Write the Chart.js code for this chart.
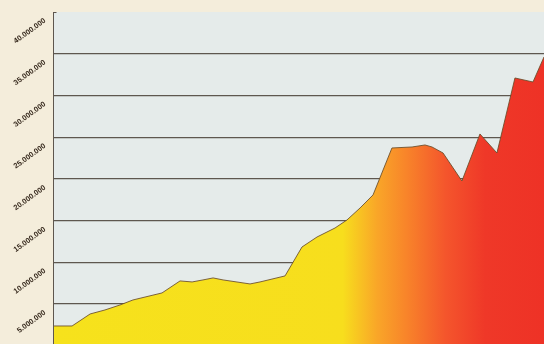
<!DOCTYPE html>
<html>
<head>
<meta charset="utf-8">
<script src="https://cdn.jsdelivr.net/npm/chart.js@4.4.1/dist/chart.umd.min.js"></script>
<style>
html,body{margin:0;padding:0;background:#f4eddb;}
#wrap{width:544px;height:344px;}
</style>
</head>
<body>
<div id="wrap"><canvas id="c" width="544" height="344"></canvas></div>
<script>
// Time (fractional years) and values
const periods = [1960.0, 1961.03, 1962.06, 1962.91, 1963.77, 1964.51, 1966.17, 1967.2, 1967.89, 1968.51,
  1969.09, 1969.66, 1971.2, 1971.77, 1973.2, 1974.17, 1975.03, 1976.06, 1976.74, 1977.49,
  1978.23, 1979.31, 1980.46, 1981.2, 1981.6, 1982.23, 1983.31, 1984.34, 1985.31, 1986.34,
  1987.37, 1988.0];
const values = [2360000, 2360000, 3800000, 4280000, 4880000, 5480000, 6320000, 7760000, 7640000, 7880000,
  8120000, 7880000, 7400000, 7640000, 8360000, 11830000, 13030000, 14110000, 15070000, 16510000,
  18070000, 23700000, 23820000, 24060000, 23820000, 23100000, 19740000, 25380000, 23100000, 32090000,
  31610000, 34610000];
const tickValues = [5000000, 10000000, 15000000, 20000000, 25000000, 30000000, 35000000, 40000000];
const tickLabels = ['5.000.000', '10.000.000', '15.000.000', '20.000.000', '25.000.000', '30.000.000', '35.000.000', '40.000.000'];

const bgPlugin = {
  id: 'bg',
  beforeDraw(chart) {
    const {ctx, chartArea: a} = chart;
    ctx.save();
    ctx.fillStyle = '#f4eddb';
    ctx.fillRect(0, 0, chart.width, chart.height);
    ctx.fillStyle = '#e5ebea';
    ctx.fillRect(a.left, a.top, a.right - a.left, a.bottom - a.top);
    ctx.restore();
  },
  afterDraw(chart) {
    const {ctx, chartArea: a} = chart;
    const y = chart.scales.y;
    ctx.save();
    ctx.fillStyle = '#33261a';
    ctx.font = 'bold 7.5px "Liberation Sans", Arial, sans-serif';
    ctx.textAlign = 'right';
    ctx.textBaseline = 'middle';
    tickValues.forEach((v, i) => {
      const py = y.getPixelForValue(v);
      ctx.save();
      ctx.translate(a.left - 8, py + 8);
      ctx.rotate(-36 * Math.PI / 180);
      ctx.fillText(tickLabels[i], 0, 0);
      ctx.restore();
    });
    // small hook at top of axis
    ctx.strokeStyle = '#5e564e';
    ctx.lineWidth = 1;
    ctx.beginPath();
    ctx.moveTo(a.left + 0.5, a.top + 0.5);
    ctx.lineTo(a.left + 3.5, a.top + 0.5);
    ctx.stroke();
    ctx.restore();
  }
};

function grad(context) {
  const chart = context.chart;
  const a = chart.chartArea;
  if (!a) return '#f5e01c';
  const g = chart.ctx.createLinearGradient(a.left, 0, a.right, 0);
  g.addColorStop(0, '#f6e21c');
  g.addColorStop(0.59, '#f7de1d');
  g.addColorStop(0.66, '#f9a628');
  g.addColorStop(0.72, '#f8842a');
  g.addColorStop(0.80, '#f4552c');
  g.addColorStop(0.88, '#ef3828');
  g.addColorStop(1, '#ee3226');
  return g;
}

new Chart(document.getElementById('c'), {
  type: 'line',
  data: {
    datasets: [{
      data: periods.map((p, i) => ({x: p, y: values[i]})),
      fill: 'start',
      backgroundColor: grad,
      borderColor: 'rgba(105,75,40,0.85)',
      borderWidth: 1,
      pointRadius: 0,
      tension: 0
    }]
  },
  options: {
    responsive: false,
    animation: false,
    devicePixelRatio: 1,
    layout: {padding: {left: 53, top: 12, right: 0, bottom: 0}},
    plugins: {legend: {display: false}, tooltip: {enabled: false}},
    scales: {
      x: {
        type: 'linear', min: 1959.94, max: 1988,
        display: false
      },
      y: {
        type: 'linear', min: 200000, max: 40000000,
        afterBuildTicks(scale) { scale.ticks = tickValues.map(v => ({value: v})); },
        ticks: {display: false},
        grid: {
          color: ctx => (ctx.tick && ctx.tick.value === 40000000) ? 'rgba(0,0,0,0)' : '#5e574f',
          lineWidth: 1.2,
          drawTicks: false
        },
        border: {display: true, color: '#5e564e', width: 1}
      }
    }
  },
  plugins: [bgPlugin]
});
</script>
</body>
</html>
